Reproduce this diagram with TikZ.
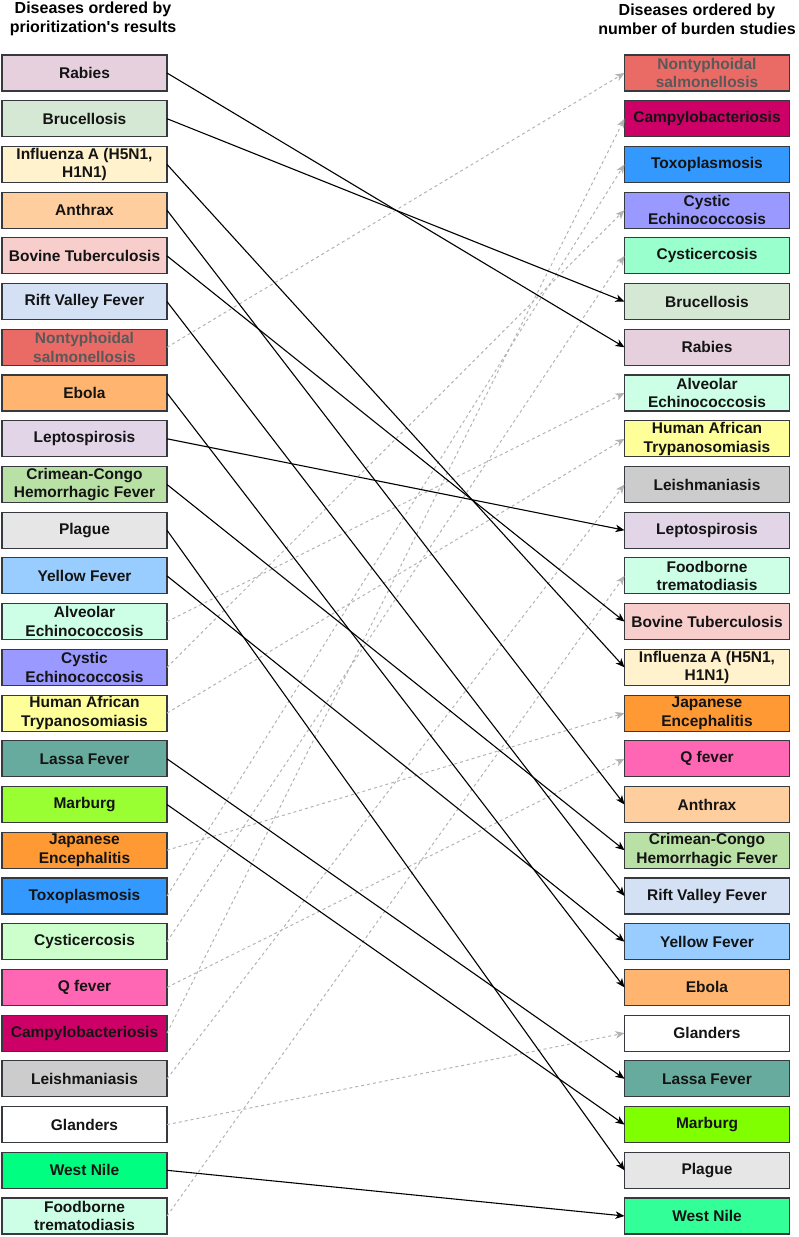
\documentclass[tikz,border=0pt]{standalone}
\usepackage{fontspec}
\setmainfont{Liberation Sans}
\usetikzlibrary{arrows.meta}

\definecolor{cRabies}{HTML}{E6D0DE}
\definecolor{cBruc}{HTML}{D5E8D4}
\definecolor{cFlu}{HTML}{FFF2CC}
\definecolor{cAnth}{HTML}{FFCE9F}
\definecolor{cBov}{HTML}{F8CECC}
\definecolor{cRvf}{HTML}{D4E1F5}
\definecolor{cSalm}{HTML}{EA6B66}
\definecolor{cEbola}{HTML}{FFB570}
\definecolor{cLepto}{HTML}{E1D5E7}
\definecolor{cCchf}{HTML}{B9E0A5}
\definecolor{cPlague}{HTML}{E6E6E6}
\definecolor{cYf}{HTML}{99CCFF}
\definecolor{cAlv}{HTML}{CCFFE6}
\definecolor{cCys}{HTML}{9999FF}
\definecolor{cHat}{HTML}{FFFF99}
\definecolor{cLassa}{HTML}{67AB9F}
\definecolor{cMarbL}{HTML}{99FF33}
\definecolor{cMarbR}{HTML}{80FF00}
\definecolor{cJe}{HTML}{FF9933}
\definecolor{cToxo}{HTML}{3399FF}
\definecolor{cCystiL}{HTML}{CCFFCC}
\definecolor{cCystiR}{HTML}{99FFCC}
\definecolor{cQfev}{HTML}{FF66B3}
\definecolor{cCamp}{HTML}{CC0066}
\definecolor{cLeish}{HTML}{CCCCCC}
\definecolor{cWnL}{HTML}{00FF80}
\definecolor{cWnR}{HTML}{33FF99}
\definecolor{cLink}{HTML}{B3B3B3}
\definecolor{cEdge}{HTML}{36393D}

\begin{document}
\begin{tikzpicture}[x=1pt,y=-1pt,
  dis/.style={draw=cEdge, line width=1.1pt, minimum width=165pt, minimum height=36pt,
    inner sep=0pt, outer sep=0pt, align=center, text=black!92,
    font=\fontsize{15.5}{18.5}\selectfont\bfseries},
  heading/.style={align=center, font=\fontsize{16}{19}\selectfont\bfseries},
  same/.style={-{Stealth[length=9pt,width=7.5pt,inset=2.5pt]}, line width=1.1pt},
  moved/.style={-{Stealth[length=9pt,width=7.5pt,inset=2.5pt]}, line width=1pt,
    color=cLink, dash pattern=on 3pt off 3pt}]
\useasboundingbox (0,0) rectangle (799,1237);

% headings
\node[heading] (headL) at (93,19) {Diseases ordered by\\prioritization\textquotesingle s results};
\node[heading] (headR) at (697,19) {Diseases ordered by\\number of burden studies};

% prioritization order
\node[dis, fill=cRabies] (rabiesL) at (84.5,73) {Rabies};
\node[dis, fill=cBruc] (brucL) at (84.5,118.7) {Brucellosis};
\node[dis, fill=cFlu] (fluL) at (84.5,164.4) {Influenza A (H5N1,\\H1N1)};
\node[dis, fill=cAnth] (anthL) at (84.5,210.2) {Anthrax};
\node[dis, fill=cBov] (bovL) at (84.5,255.9) {Bovine Tuberculosis};
\node[dis, fill=cRvf] (rvfL) at (84.5,301.6) {Rift Valley Fever};
\node[dis, fill=cSalm, text=black!65] (salmL) at (84.5,347.3) {Nontyphoidal\\salmonellosis};
\node[dis, fill=cEbola] (ebolaL) at (84.5,393) {Ebola};
\node[dis, fill=cLepto] (leptoL) at (84.5,438.8) {Leptospirosis};
\node[dis, fill=cCchf] (cchfL) at (84.5,484.5) {Crimean-Congo\\Hemorrhagic Fever};
\node[dis, fill=cPlague] (plagueL) at (84.5,530.2) {Plague};
\node[dis, fill=cYf] (yfL) at (84.5,575.9) {Yellow Fever};
\node[dis, fill=cAlv] (alvL) at (84.5,621.6) {Alveolar\\Echinococcosis};
\node[dis, fill=cCys] (cysL) at (84.5,667.4) {Cystic\\Echinococcosis};
\node[dis, fill=cHat] (hatL) at (84.5,713.1) {Human African\\Trypanosomiasis};
\node[dis, fill=cLassa] (lassaL) at (84.5,758.8) {Lassa Fever};
\node[dis, fill=cMarbL] (marbL) at (84.5,804.5) {Marburg};
\node[dis, fill=cJe] (jeL) at (84.5,850.2) {Japanese\\Encephalitis};
\node[dis, fill=cToxo] (toxoL) at (84.5,896) {Toxoplasmosis};
\node[dis, fill=cCystiL] (cystiL) at (84.5,941.7) {Cysticercosis};
\node[dis, fill=cQfev] (qfevL) at (84.5,987.4) {Q fever};
\node[dis, fill=cCamp] (campL) at (84.5,1033.1) {Campylobacteriosis};
\node[dis, fill=cLeish] (leishL) at (84.5,1078.8) {Leishmaniasis};
\node[dis, fill=white] (glandL) at (84.5,1124.6) {Glanders};
\node[dis, fill=cWnL] (wnL) at (84.5,1170.3) {West Nile};
\node[dis, fill=cAlv] (foodL) at (84.5,1216) {Foodborne\\trematodiasis};

% burden studies order
\node[dis, fill=cSalm, text=black!65] (salmR) at (707,73) {Nontyphoidal\\salmonellosis};
\node[dis, fill=cCamp] (campR) at (707,118.7) {Campylobacteriosis};
\node[dis, fill=cToxo] (toxoR) at (707,164.4) {Toxoplasmosis};
\node[dis, fill=cCys] (cysR) at (707,210.2) {Cystic\\Echinococcosis};
\node[dis, fill=cCystiR] (cystiR) at (707,255.9) {Cysticercosis};
\node[dis, fill=cBruc] (brucR) at (707,301.6) {Brucellosis};
\node[dis, fill=cRabies] (rabiesR) at (707,347.3) {Rabies};
\node[dis, fill=cAlv] (alvR) at (707,393) {Alveolar\\Echinococcosis};
\node[dis, fill=cHat] (hatR) at (707,438.8) {Human African\\Trypanosomiasis};
\node[dis, fill=cLeish] (leishR) at (707,484.5) {Leishmaniasis};
\node[dis, fill=cLepto] (leptoR) at (707,530.2) {Leptospirosis};
\node[dis, fill=cAlv] (foodR) at (707,575.9) {Foodborne\\trematodiasis};
\node[dis, fill=cBov] (bovR) at (707,621.6) {Bovine Tuberculosis};
\node[dis, fill=cFlu] (fluR) at (707,667.4) {Influenza A (H5N1,\\H1N1)};
\node[dis, fill=cJe] (jeR) at (707,713.1) {Japanese\\Encephalitis};
\node[dis, fill=cQfev] (qfevR) at (707,758.8) {Q fever};
\node[dis, fill=cAnth] (anthR) at (707,804.5) {Anthrax};
\node[dis, fill=cCchf] (cchfR) at (707,850.2) {Crimean-Congo\\Hemorrhagic Fever};
\node[dis, fill=cRvf] (rvfR) at (707,896) {Rift Valley Fever};
\node[dis, fill=cYf] (yfR) at (707,941.7) {Yellow Fever};
\node[dis, fill=cEbola] (ebolaR) at (707,987.4) {Ebola};
\node[dis, fill=white] (glandR) at (707,1033.1) {Glanders};
\node[dis, fill=cLassa] (lassaR) at (707,1078.8) {Lassa Fever};
\node[dis, fill=cMarbR] (marbR) at (707,1124.6) {Marburg};
\node[dis, fill=cPlague] (plagueR) at (707,1170.3) {Plague};
\node[dis, fill=cWnR] (wnR) at (707,1216) {West Nile};

% dashed: only in the burden list order
\draw[moved] (salmL.east) -- (salmR.west);
\draw[moved] (alvL.east) -- (alvR.west);
\draw[moved] (cysL.east) -- (cysR.west);
\draw[moved] (hatL.east) -- (hatR.west);
\draw[moved] (jeL.east) -- (jeR.west);
\draw[moved] (toxoL.east) -- (toxoR.west);
\draw[moved] (cystiL.east) -- (cystiR.west);
\draw[moved] (qfevL.east) -- (qfevR.west);
\draw[moved] (campL.east) -- (campR.west);
\draw[moved] (leishL.east) -- (leishR.west);
\draw[moved] (glandL.east) -- (glandR.west);
\draw[moved] (foodL.east) -- (foodR.west);

% solid
\draw[same] (rabiesL.east) -- (rabiesR.west);
\draw[same] (brucL.east) -- (brucR.west);
\draw[same] (fluL.east) -- (fluR.west);
\draw[same] (anthL.east) -- (anthR.west);
\draw[same] (bovL.east) -- (bovR.west);
\draw[same] (rvfL.east) -- (rvfR.west);
\draw[same] (ebolaL.east) -- (ebolaR.west);
\draw[same] (leptoL.east) -- (leptoR.west);
\draw[same] (cchfL.east) -- (cchfR.west);
\draw[same] (plagueL.east) -- (plagueR.west);
\draw[same] (yfL.east) -- (yfR.west);
\draw[same] (lassaL.east) -- (lassaR.west);
\draw[same] (marbL.east) -- (marbR.west);
\draw[same] (wnL.east) -- (wnR.west);
\end{tikzpicture}
\end{document}
